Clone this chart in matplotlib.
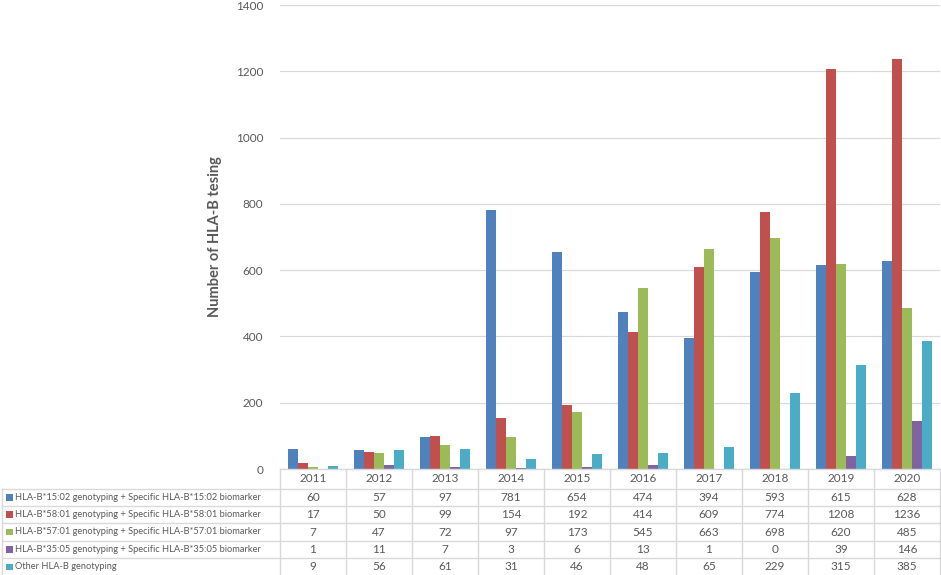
import numpy as np
import matplotlib.pyplot as plt
from matplotlib.lines import Line2D
from matplotlib.patches import Rectangle

plt.rcParams['font.family'] = ['Lato', 'DejaVu Sans']

years = ['2011', '2012', '2013', '2014', '2015', '2016', '2017', '2018', '2019', '2020']
series_names = [
    'HLA-B*15:02 genotyping + Specific HLA-B*15:02 biomarker',
    'HLA-B*58:01 genotyping + Specific HLA-B*58:01 biomarker',
    'HLA-B*57:01 genotyping + Specific HLA-B*57:01 biomarker',
    'HLA-B*35:05 genotyping + Specific HLA-B*35:05 biomarker',
    'Other HLA-B genotyping',
]
b1502 = [60, 57, 97, 781, 654, 474, 394, 593, 615, 628]
b5801 = [17, 50, 99, 154, 192, 414, 609, 774, 1208, 1236]
b5701 = [7, 47, 72, 97, 173, 545, 663, 698, 620, 485]
b3505 = [1, 11, 7, 3, 6, 13, 1, 0, 39, 146]
other = [9, 56, 61, 31, 46, 48, 65, 229, 315, 385]
series = [b1502, b5801, b5701, b3505, other]
colors = ['#4F81BD', '#C0504D', '#9BBB59', '#8064A2', '#4BACC6']

W, H = 941, 575
txt = '#595959'
grid = '#D9D9D9'

fig = plt.figure(figsize=(W / 100, H / 100), dpi=100)

# main chart, pixel box 280..940 x 5..469
ax_l, ax_r, ax_t, ax_b = 280, 940, 5, 469
ax = fig.add_axes([ax_l / W, 1 - ax_b / H, (ax_r - ax_l) / W, (ax_b - ax_t) / H])

x = np.arange(len(years))
bw = 0.152
for k, (vals, c) in enumerate(zip(series, colors)):
    ax.bar(x + (k - 2) * bw, vals, width=bw, color=c, linewidth=0, zorder=3)

ax.set_xlim(-0.5, len(years) - 0.5)
ax.set_ylim(0, 1400)
ax.set_yticks(range(0, 1401, 200))
ax.set_xticks([])
ax.yaxis.grid(True, color=grid, linewidth=0.9, zorder=0)
for s in ax.spines.values():
    s.set_visible(False)
ax.tick_params(axis='y', length=0, pad=12, labelsize=8.5, labelcolor=txt)
ax.set_ylabel('Number of HLA-B tesing', fontsize=10.5, fontweight='bold',
              color=txt, labelpad=10)

# data table in pixel coordinates
tab = fig.add_axes([0, 0, 1, 1])
tab.set_xlim(0, W)
tab.set_ylim(H, 0)
tab.axis('off')

col_w = (ax_r - ax_l) / len(years)
top = ax_b
row_h = 17.4
hdr_bot = 488.5
rows_y = [hdr_bot + i * row_h for i in range(len(series) + 1)]
left = 2

lk = dict(color=grid, linewidth=1.0)
# header row
tab.add_line(Line2D([ax_l, ax_r], [top, top], **lk))
for i in range(len(years) + 1):
    xx = ax_l + i * col_w
    tab.add_line(Line2D([xx, xx], [top, rows_y[-1]], **lk))
tab.add_line(Line2D([left, left], [hdr_bot, rows_y[-1]], **lk))
for yy in rows_y:
    tab.add_line(Line2D([left, ax_r], [yy, yy], **lk))

for i, yr in enumerate(years):
    tab.text(ax_l + (i + 0.5) * col_w, (top + hdr_bot) / 2, yr, ha='center',
             va='center', fontsize=8.5, color=txt)

for r, (name, vals, c) in enumerate(zip(series_names, series, colors)):
    yc = (rows_y[r] + rows_y[r + 1]) / 2
    tab.add_patch(Rectangle((6, yc - 3.3), 6.6, 6.6, color=c, linewidth=0))
    tab.text(15, yc, name, ha='left', va='center', fontsize=6.65, color=txt)
    for i, v in enumerate(vals):
        tab.text(ax_l + (i + 0.5) * col_w, yc, str(v), ha='center',
                 va='center', fontsize=8.5, color=txt)

fig.savefig('out.png', dpi=100)
